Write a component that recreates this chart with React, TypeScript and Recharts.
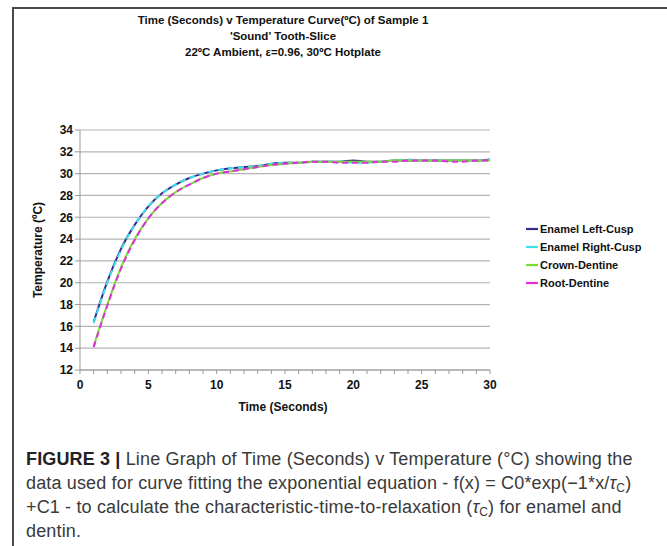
import React from "react";
import { CartesianGrid, Line, LineChart, XAxis, YAxis } from "recharts";

const seconds = [1, 2, 3, 4, 5, 6, 7, 8, 9, 10, 11, 12, 13, 14, 15, 16, 17, 18, 19, 20, 21, 22, 23, 24, 25, 26, 27, 28, 29, 30];
const leftCusp = [16.4, 20.1, 23.1, 25.3, 27.0, 28.2, 29.0, 29.6, 30.0, 30.3, 30.5, 30.6, 30.7, 30.9, 31.0, 31.0, 31.1, 31.1, 31.1, 31.2, 31.1, 31.1, 31.2, 31.2, 31.2, 31.2, 31.2, 31.2, 31.2, 31.3];
const rightCusp = [16.3, 20.0, 23.0, 25.3, 27.0, 28.2, 29.0, 29.6, 30.0, 30.3, 30.5, 30.6, 30.7, 30.9, 31.0, 31.0, 31.1, 31.1, 31.1, 31.0, 31.0, 31.1, 31.2, 31.3, 31.2, 31.2, 31.2, 31.2, 31.2, 31.3];
const crownDentine = [14.2, 18.0, 21.4, 24.0, 25.9, 27.3, 28.3, 29.0, 29.6, 30.0, 30.2, 30.4, 30.6, 30.8, 30.9, 31.0, 31.1, 31.1, 31.1, 31.1, 31.1, 31.1, 31.2, 31.2, 31.2, 31.2, 31.2, 31.2, 31.2, 31.2];
const rootDentine = [14.1, 17.9, 21.3, 23.9, 25.9, 27.3, 28.3, 29.0, 29.6, 30.0, 30.2, 30.4, 30.6, 30.8, 30.9, 31.0, 31.1, 31.1, 31.0, 31.0, 31.0, 31.1, 31.1, 31.2, 31.2, 31.2, 31.1, 31.1, 31.2, 31.2];

const xTicks = [0, 1, 2, 3, 4, 5, 6, 7, 8, 9, 10, 11, 12, 13, 14, 15, 16, 17, 18, 19, 20, 21, 22, 23, 24, 25, 26, 27, 28, 29, 30];
const yTicks = [12, 14, 16, 18, 20, 22, 24, 26, 28, 30, 32, 34];

const series = [
  { key: "leftCusp", name: "Enamel Left-Cusp", color: "#3b2a8c", dash: undefined },
  { key: "rightCusp", name: "Enamel Right-Cusp", color: "#3fe0ec", dash: "6 4" },
  { key: "crownDentine", name: "Crown-Dentine", color: "#78dc34", dash: undefined },
  { key: "rootDentine", name: "Root-Dentine", color: "#e02ee0", dash: "6 4" },
];

const data = seconds.map((t, i) => ({
  t,
  leftCusp: leftCusp[i],
  rightCusp: rightCusp[i],
  crownDentine: crownDentine[i],
  rootDentine: rootDentine[i],
}));

const font = "'Liberation Sans', Arial, sans-serif";

const XTick = (props: any) => {
  const { x, y, payload } = props;
  if (payload.value % 5 !== 0) return null;
  return (
    <text x={x} y={y + 13} textAnchor="middle" fontSize={12} fontWeight="bold" fill="#111" fontFamily={font}>
      {payload.value}
    </text>
  );
};

const sub = { fontSize: 12, verticalAlign: "-3px", lineHeight: 0 } as const;

export default function App() {
  return (
    <div style={{ position: "absolute", left: 0, top: 0, width: 667, height: 546, background: "#fff", overflow: "hidden" }}>
      <div style={{ position: "absolute", left: 12, top: 7, width: 655, height: 2, background: "#4a4a4a" }} />
      <div style={{ position: "absolute", left: 12, top: 7, width: 2, height: 539, background: "#4a4a4a" }} />

      <div style={{ position: "absolute", left: 83, width: 400, top: 12, textAlign: "center", fontFamily: font, fontSize: 11.5, fontWeight: "bold", lineHeight: "16px", color: "#111" }}>
        <div>Time (Seconds) v Temperature Curve(ºC) of Sample 1</div>
        <div>'Sound' Tooth-Slice</div>
        <div>22ºC Ambient, ε=0.96, 30ºC Hotplate</div>
      </div>

      <div style={{ position: "absolute", left: 0, top: 0 }}>
        <LineChart width={667} height={420} data={data} margin={{ top: 130, right: 177, bottom: 20, left: 20 }}>
          <CartesianGrid horizontal vertical={false} stroke="#b4b4b4" strokeWidth={1.2} />
          <XAxis
            dataKey="t"
            type="number"
            domain={[0, 30]}
            ticks={xTicks}
            interval={0}
            height={30}
            tick={<XTick />}
            tickSize={4}
            stroke="#999"
          />
          <YAxis
            type="number"
            domain={[12, 34]}
            ticks={yTicks}
            interval={0}
            width={60}
            tickSize={5}
            stroke="#999"
            tick={{ fontSize: 12, fontWeight: "bold", fill: "#111", fontFamily: font }}
          />
          {series.map((s) => (
            <Line
              key={s.key}
              dataKey={s.key}
              name={s.name}
              type="monotone"
              stroke={s.color}
              strokeWidth={2}
              strokeDasharray={s.dash}
              dot={false}
              isAnimationActive={false}
            />
          ))}
        </LineChart>
      </div>

      <div style={{ position: "absolute", left: 526, top: 220, fontFamily: font, fontSize: 11, fontWeight: "bold", color: "#111" }}>
        {series.map((s) => (
          <div key={s.key} style={{ display: "flex", alignItems: "center", height: 18 }}>
            <svg width={12} height={4} style={{ marginRight: 2 }}>
              <line x1={0} y1={2} x2={12} y2={2} stroke={s.color} strokeWidth={2.2} />
            </svg>
            {s.name}
          </div>
        ))}
      </div>

      <div style={{ position: "absolute", left: 233, width: 100, top: 400, textAlign: "center", fontFamily: font, fontSize: 12, fontWeight: "bold", color: "#111" }}>
        Time (Seconds)
      </div>
      <div
        style={{
          position: "absolute",
          left: 38,
          top: 250,
          transform: "translate(-50%, -50%) rotate(-90deg)",
          whiteSpace: "nowrap",
          fontFamily: font,
          fontSize: 12,
          fontWeight: "bold",
          color: "#111",
        }}
      >
        Temperature (ºC)
      </div>

      <div style={{ position: "absolute", left: 26, top: 447, fontFamily: font, fontSize: 18, lineHeight: "24px", color: "#3a3a3a", whiteSpace: "nowrap", letterSpacing: 0.15 }}>
        <div>
          <b style={{ color: "#222" }}>FIGURE 3 |</b> Line Graph of Time (Seconds) v Temperature (°C) showing the
        </div>
        <div>
          data used for curve fitting the exponential equation - f(x) = C0*exp(−1*x/<i>τ</i>
          <span style={sub}>C</span>)
        </div>
        <div>
          +C1 - to calculate the characteristic-time-to-relaxation (<i>τ</i>
          <span style={sub}>C</span>) for enamel and
        </div>
        <div>dentin.</div>
      </div>
    </div>
  );
}
